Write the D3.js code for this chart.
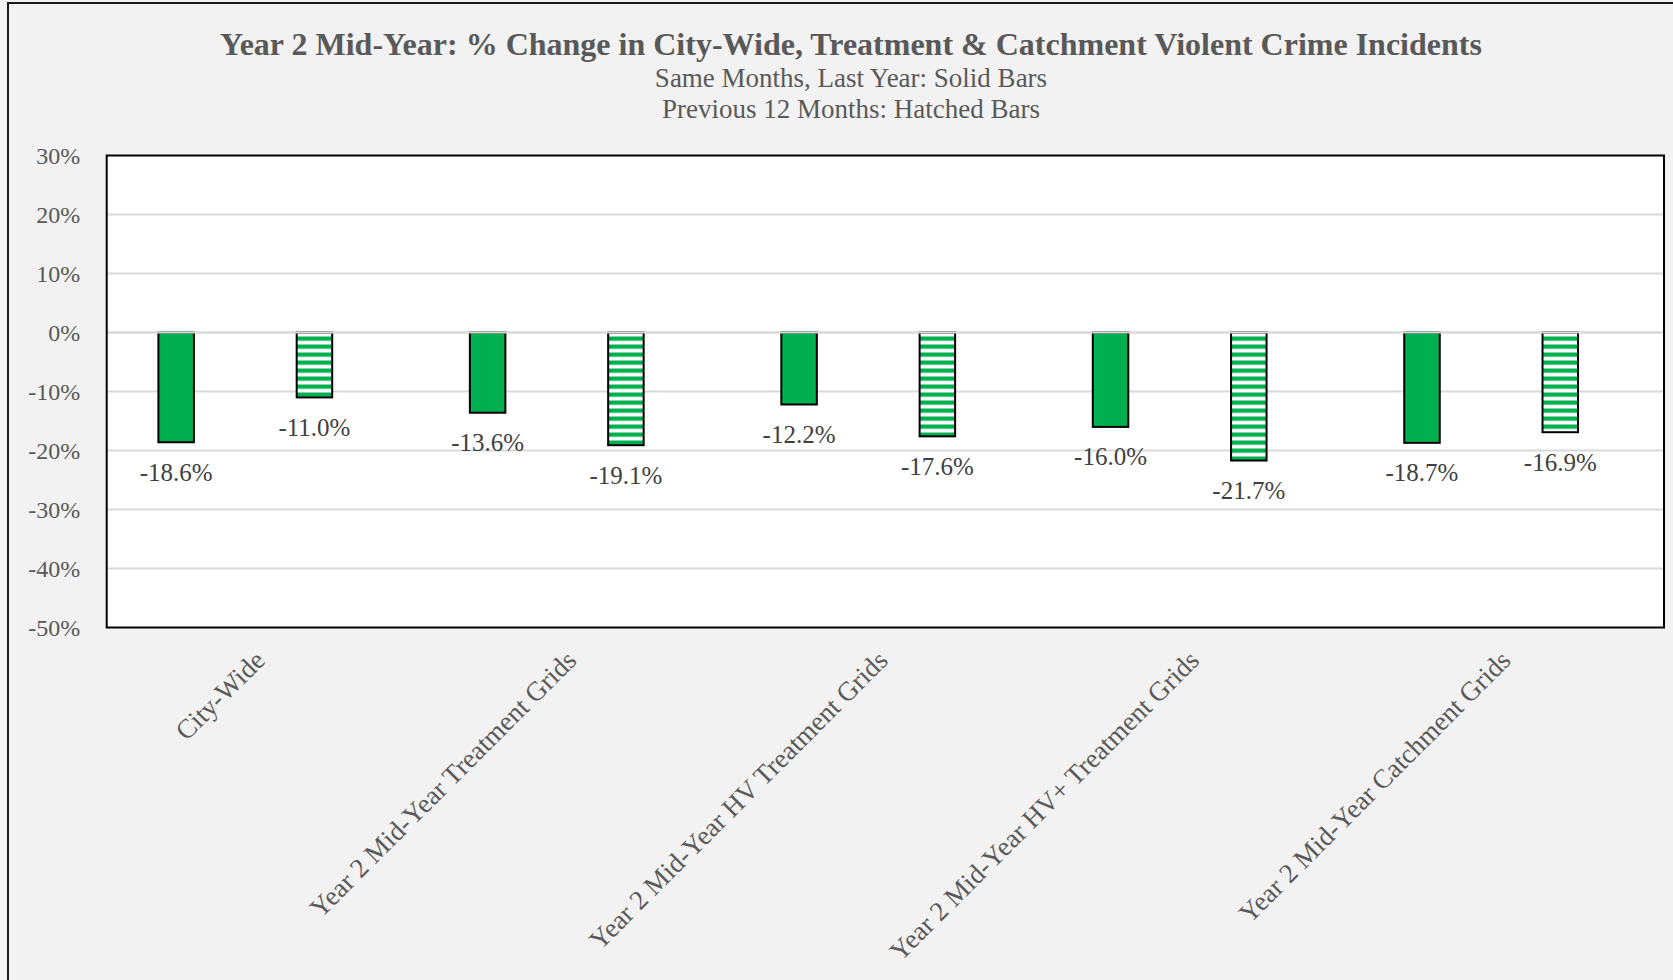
<!doctype html>
<html lang="en">
	<head>
		<meta charset="UTF-8">
		<title>Year 2 Mid-Year % Change</title>
		<style>
			body {
				margin: 0;
				background-color: #f2f2f2;
			}
			svg {
				display: block;
				font-family: "Liberation Serif", "Times New Roman", serif;
			}
			.grid line {
				stroke: #d9d9d9;
				stroke-width: 2;
			}
			.tick-label {
				fill: #595959;
				font-size: 24px;
				font-family: "Liberation Serif", "Times New Roman", serif;
			}
			.cat-label {
				fill: #595959;
				font-size: 27px;
			}
			.data-label {
				fill: #404040;
				font-size: 25px;
			}
		</style>
	</head>
	<body>
		<svg class="chart"></svg>

		<script src="https://d3js.org/d3.v7.min.js"></script>
		<script>

			// Data
			var categories = ["City-Wide", "Year 2 Mid-Year Treatment Grids", "Year 2 Mid-Year HV Treatment Grids",
				"Year 2 Mid-Year HV+ Treatment Grids", "Year 2 Mid-Year Catchment Grids"];
			var series = ["Same Months, Last Year", "Previous 12 Months"];
			var sameMonths = [-18.6, -13.6, -12.2, -16.0, -18.7];
			var prev12Months = [-11.0, -19.1, -17.6, -21.7, -16.9];
			var yTicks = [30, 20, 10, 0, -10, -20, -30, -40, -50];

			var title = "Year 2 Mid-Year: % Change in City-Wide, Treatment & Catchment Violent Crime Incidents";
			var subtitles = ["Same Months, Last Year: Solid Bars", "Previous 12 Months: Hatched Bars"];

			// Size of the page and the plot box
			var svgWidth = 1673, svgHeight = 980;
			var plot = {left: 106.7, right: 1664, top: 155.5, bottom: 627.5};

			var svg = d3.select("svg")
				.attr("width", svgWidth)
				.attr("height", svgHeight);

			// hatch pattern for the second series
			var defs = svg.append("defs");
			var pattern = defs.append("pattern")
				.attr("id", "hatch")
				.attr("patternUnits", "userSpaceOnUse")
				.attr("width", 8)
				.attr("height", 8)
				.attr("y", 336.5);
			pattern.append("rect").attr("width", 8).attr("height", 8).attr("fill", "#ffffff");
			pattern.append("rect").attr("width", 8).attr("height", 4.3).attr("fill", "#00b050");

			// outer chart border (runs off the page at right and bottom)
			svg.append("rect")
				.attr("x", 8).attr("y", 3)
				.attr("width", 1700).attr("height", 1000)
				.attr("fill", "#f2f2f2")
				.attr("stroke", "#1a1a1a")
				.attr("stroke-width", 2);

			// Scales
			var x0 = d3.scaleBand()
				.domain(categories)
				.range([plot.left, plot.right]);

			var bw = x0.bandwidth();
			var x1 = d3.scalePoint()
				.domain(series)
				.range([bw * 0.223, bw * 0.667]);
			var barWidth = bw * 0.114;

			var yScale = d3.scaleLinear()
				.domain([-50, 30])
				.range([plot.bottom, plot.top]);

			// plot background
			svg.append("rect")
				.attr("x", plot.left).attr("y", plot.top)
				.attr("width", plot.right - plot.left)
				.attr("height", plot.bottom - plot.top)
				.attr("fill", "#ffffff");

			// gridlines
			svg.append("g")
				.attr("class", "grid")
				.selectAll("line")
				.data(yTicks.filter(function(d) { return d !== 30 && d !== -50; }))
				.enter()
				.append("line")
				.attr("x1", plot.left).attr("x2", plot.right)
				.attr("y1", function(d) { return yScale(d); })
				.attr("y2", function(d) { return yScale(d); });

			// bars
			var rows = categories.map(function(c, i) {
				return [
					{cat: c, s: series[0], v: sameMonths[i]},
					{cat: c, s: series[1], v: prev12Months[i]}
				];
			});

			var groups = svg.selectAll(".group")
				.data(rows)
				.enter()
				.append("g")
				.attr("class", "group")
				.attr("transform", function(d, i) {
					return "translate(" + x0(categories[i]) + ",0)";
				});

			groups.selectAll("rect")
				.data(function(d) { return d; })
				.enter()
				.append("rect")
				.attr("x", function(d) { return x1(d.s) - barWidth / 2; })
				.attr("y", function(d) { return yScale(Math.max(0, d.v)); })
				.attr("width", barWidth)
				.attr("height", function(d) { return Math.abs(yScale(d.v) - yScale(0)); })
				.attr("fill", function(d) { return d.s === series[0] ? "#00b050" : "url(#hatch)"; })
				.attr("stroke", "#000000")
				.attr("stroke-width", 2);

			// zero line sits on top of the bars
			svg.append("line")
				.attr("x1", plot.left).attr("x2", plot.right)
				.attr("y1", yScale(0)).attr("y2", yScale(0))
				.attr("stroke", "#d9d9d9")
				.attr("stroke-width", 2);

			// data labels
			groups.selectAll("text")
				.data(function(d) { return d; })
				.enter()
				.append("text")
				.attr("class", "data-label")
				.attr("text-anchor", "middle")
				.attr("x", function(d) { return x1(d.s); })
				.attr("y", function(d) { return yScale(d.v) + 38.5; })
				.text(function(d) { return d.v.toFixed(1) + "%"; });

			// plot border
			svg.append("rect")
				.attr("x", plot.left).attr("y", plot.top)
				.attr("width", plot.right - plot.left)
				.attr("height", plot.bottom - plot.top)
				.attr("fill", "none")
				.attr("stroke", "#000000")
				.attr("stroke-width", 2);

			// y axis labels
			var yAxis = d3.axisLeft(yScale)
				.tickValues(yTicks)
				.tickSize(0)
				.tickPadding(26.5)
				.tickFormat(function(d) { return d + "%"; });

			var yg = svg.append("g")
				.attr("transform", "translate(" + plot.left + ",0)")
				.call(yAxis);
			yg.attr("font-family", null).attr("font-size", null);
			yg.select(".domain").remove();
			yg.selectAll("text")
				.attr("class", "tick-label")
				.attr("font-family", "Liberation Serif, Times New Roman, serif")
				.attr("fill", null);

			// category labels, rotated
			svg.selectAll(".cat-label")
				.data(categories)
				.enter()
				.append("text")
				.attr("class", "cat-label")
				.attr("text-anchor", "end")
				.attr("transform", function(d) {
					return "translate(" + (x0(d) + bw / 2 + 4) + "," + 662 + ") rotate(-45)";
				})
				.text(function(d) { return d; });

			// titles
			svg.append("text")
				.attr("x", 851)
				.attr("y", 55)
				.attr("text-anchor", "middle")
				.attr("font-size", 32)
				.attr("font-weight", "bold")
				.attr("fill", "#595959")
				.text(title);

			svg.selectAll(".subtitle")
				.data(subtitles)
				.enter()
				.append("text")
				.attr("class", "subtitle")
				.attr("x", 851)
				.attr("y", function(d, i) { return 86.7 + i * 31; })
				.attr("text-anchor", "middle")
				.attr("font-size", 27)
				.attr("fill", "#595959")
				.text(function(d) { return d; });

		</script>
	</body>
</html>
